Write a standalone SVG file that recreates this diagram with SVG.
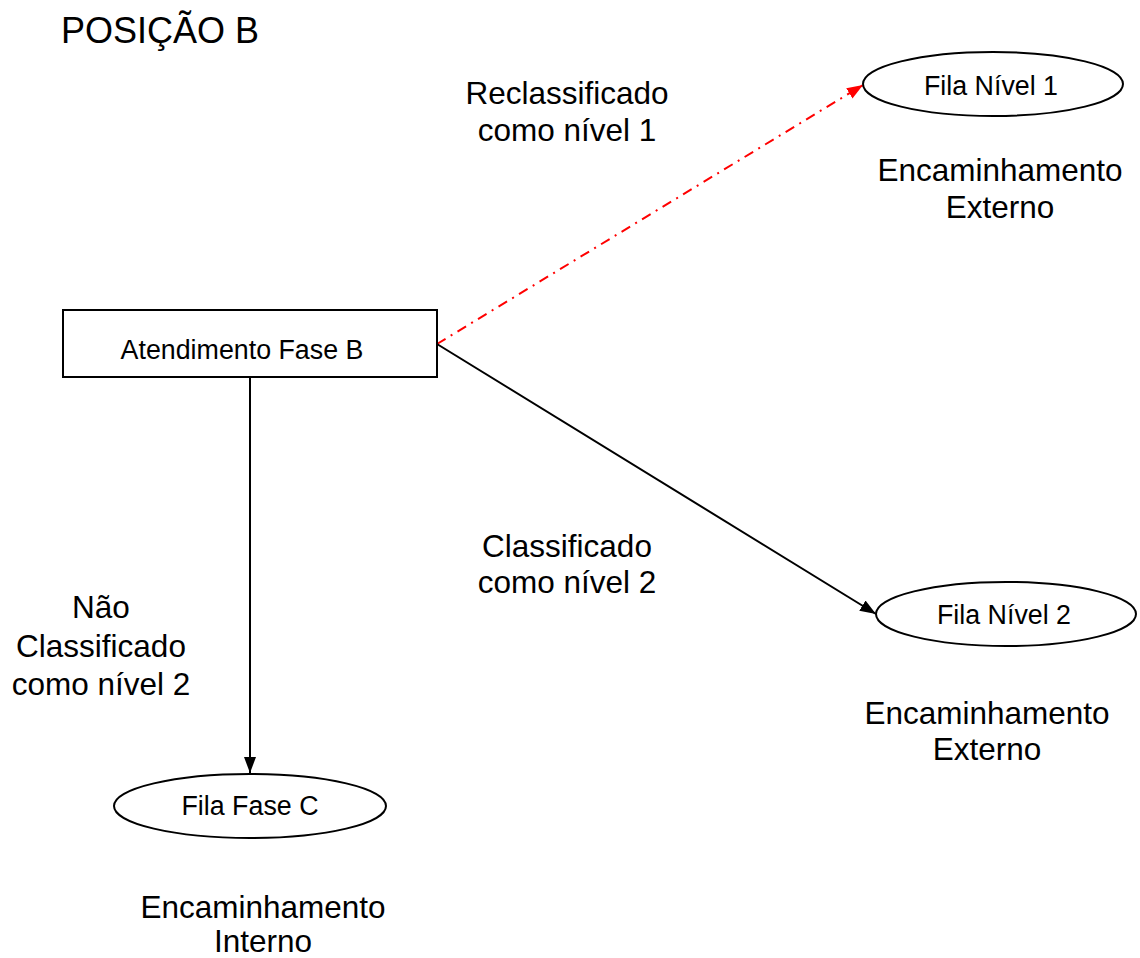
<svg xmlns="http://www.w3.org/2000/svg" width="1140" height="958" viewBox="0 0 1140 958">
<style>
  text { font-family: "Liberation Sans", Arial, sans-serif; fill: #000; }
  .lbl { font-size: 31.5px; text-anchor: middle; }
  .node { font-size: 26.8px; text-anchor: middle; }
  .shape { fill: #fff; stroke: #000; stroke-width: 2; }
  .conn { fill: none; stroke: #000; stroke-width: 2; }
  .red { fill: none; stroke: #ff0000; stroke-width: 2; stroke-dasharray: 10 6 2 6; }
</style>
<defs>
  <marker id="ab" markerUnits="userSpaceOnUse" markerWidth="18" markerHeight="14" refX="16" refY="6" orient="auto">
    <path d="M0,0 L16,6 L0,12 Z" fill="#000"/>
  </marker>
  <marker id="ar" markerUnits="userSpaceOnUse" markerWidth="18" markerHeight="14" refX="16" refY="6" orient="auto">
    <path d="M0,0 L16,6 L0,12 Z" fill="#ff0000"/>
  </marker>
</defs>
<rect width="1140" height="958" fill="#fff"/>
<text x="61" y="43" style="font-size:36px">POSIÇÃO B</text>

<g id="connectors">
  <line class="red" x1="437" y1="344" x2="863" y2="85" marker-end="url(#ar)"/>
  <line class="conn" x1="437" y1="344" x2="876" y2="614" marker-end="url(#ab)"/>
  <line class="conn" x1="250" y1="377" x2="250" y2="773" marker-end="url(#ab)"/>
</g>

<g id="atendimento">
  <rect class="shape" x="63" y="310" width="374" height="67"/>
  <text class="node" x="242" y="359">Atendimento Fase B</text>
</g>
<g id="fila1">
  <ellipse class="shape" cx="993" cy="84" rx="130" ry="32"/>
  <text class="node" x="991" y="95">Fila Nível 1</text>
</g>
<g id="fila2">
  <ellipse class="shape" cx="1006" cy="614" rx="130" ry="32"/>
  <text class="node" x="1004" y="624">Fila Nível 2</text>
</g>
<g id="filaC">
  <ellipse class="shape" cx="250" cy="806" rx="136" ry="32"/>
  <text class="node" x="250" y="815">Fila Fase C</text>
</g>

<g id="labels">
  <text class="lbl" x="567" y="104">Reclassificado</text>
  <text class="lbl" x="567" y="141">como nível 1</text>
  <text class="lbl" x="1000" y="181">Encaminhamento</text>
  <text class="lbl" x="1000" y="218">Externo</text>
  <text class="lbl" x="567" y="557">Classificado</text>
  <text class="lbl" x="567" y="593">como nível 2</text>
  <text class="lbl" x="101" y="618">Não</text>
  <text class="lbl" x="101" y="657">Classificado</text>
  <text class="lbl" x="101" y="695">como nível 2</text>
  <text class="lbl" x="987" y="724">Encaminhamento</text>
  <text class="lbl" x="987" y="760">Externo</text>
  <text class="lbl" x="263" y="918">Encaminhamento</text>
  <text class="lbl" x="263" y="952">Interno</text>
</g>
</svg>
